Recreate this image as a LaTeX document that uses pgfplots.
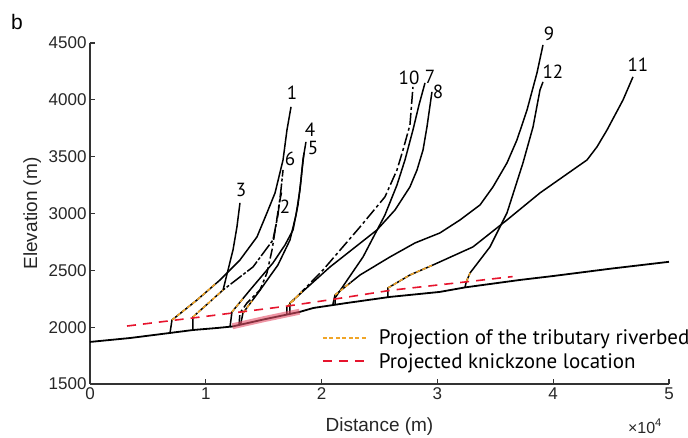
\documentclass[border=0pt]{standalone}
\usepackage{fontspec}
\setmainfont{Liberation Sans}
\newfontfamily\myr{PT Sans}
\usepackage{pgfplots}
\pgfplotsset{compat=1.18}
\definecolor{kzred}{RGB}{230,20,45}
\definecolor{projor}{RGB}{240,165,40}
\definecolor{bandred}{RGB}{228,80,105}
\tikzset{
  trib/.style={black, line width=1.5pt},
  orng/.style={color=projor, line width=1.5pt, dash pattern=on 4pt off 2.5pt},
  kz/.style={color=kzred, line width=1.6pt, dash pattern=on 9pt off 7pt},
  lab/.style={font=\myr\fontsize{19}{20}\selectfont, text=black},
}
\begin{document}
\begin{tikzpicture}
\useasboundingbox (-90pt,-54pt) rectangle (598pt,384pt);
\begin{axis}[
  scale only axis, width=579pt, height=341pt,
  xmin=0, xmax=5, ymin=1500, ymax=4500,
  axis x line*=bottom, axis y line*=left,
  every outer x axis line/.append style={-},
  every outer y axis line/.append style={-},
  axis line style={-, line width=1.2pt, black!80},
  tick align=inside, major tick length=5pt,
  every tick/.style={line width=1.2pt, black!80},
  xtick={0,1,2,3,4,5}, ytick={1500,2000,2500,3000,3500,4000,4500},
  scaled ticks=false,
  /pgf/number format/assume math mode=true,
  /pgf/number format/1000 sep={},
  tick label style={font=\fontsize{17}{20}\selectfont, text=black!85},
  xlabel={Distance (m)}, ylabel={Elevation (m)},
  label style={font=\fontsize{19}{22}\selectfont, text=black!85},
  xlabel style={at={(axis description cs:0.5,-0.126)}, anchor=center},
  ylabel style={at={(axis description cs:-0.10,0.5)}, anchor=center},
  clip=false,
  legend style={at={(0.40,0.165)}, anchor=north west, draw=none, fill=none,
    font=\myr\fontsize{21}{24}\selectfont, row sep=3pt, column sep=8pt, inner sep=0pt,
    nodes={inner sep=2pt}},
  legend cell align=left,
]
% trunk
\addplot[black, line width=1.8pt, forget plot] coordinates {
(0,1870) (0.35,1905) (0.69,1949) (0.89,1975) (1.1,1993) (1.23,2006) (1.5,2068) (1.81,2134)
(1.93,2169) (2.22,2213) (2.59,2266) (3.02,2310) (3.24,2350) (3.71,2415) (4.0,2450) (4.5,2515) (5.0,2575)};
% tributaries
\addplot[trib, forget plot] coordinates {(0.691,1949) (0.708,2063) (0.924,2239) (1.123,2415) (1.295,2591) (1.442,2794) (1.528,3005) (1.598,3181) (1.667,3471) (1.701,3735) (1.736,3938)};
\addplot[trib, forget plot] coordinates {(1.149,2327) (1.192,2503) (1.235,2679) (1.269,2882) (1.295,3093)};
\addplot[trib, forget plot, dash pattern=on 14pt off 2pt on 3pt off 2pt] coordinates {(0.889,1975) (0.889,2090) (1.149,2327) (1.408,2530) (1.580,2767) (1.623,2987) (1.649,3207) (1.667,3383)};
\addplot[trib, forget plot, dash pattern=on 10pt off 3pt on 3pt off 3pt] coordinates {(1.287,2018) (1.295,2125) (1.356,2213) (1.468,2327) (1.528,2477) (1.572,2679) (1.606,2899) (1.632,3075) (1.658,3207)};
\addplot[trib, forget plot] coordinates {(1.209,2002) (1.226,2134) (1.382,2327) (1.580,2565) (1.684,2723) (1.753,2855) (1.796,3075) (1.822,3295) (1.839,3471) (1.865,3630)};
\addplot[trib, forget plot] coordinates {(1.30,2020) (1.321,2125) (1.451,2301) (1.623,2547) (1.727,2767) (1.779,2987) (1.813,3207) (1.831,3383) (1.848,3533)};
\addplot[trib, forget plot, dash pattern=on 12pt off 3pt on 3pt off 3pt] coordinates {(1.70,2115) (1.701,2178) (2.012,2503) (2.332,2882) (2.547,3146) (2.651,3383) (2.703,3559) (2.763,3779) (2.789,4114)};
\addplot[trib, forget plot] coordinates {(2.116,2205) (2.116,2257) (2.358,2618) (2.547,2987) (2.651,3251) (2.720,3471) (2.789,3735) (2.841,3955) (2.893,4149)};
\addplot[trib, forget plot] coordinates {(1.727,2120) (1.727,2213) (2.073,2530) (2.478,2855) (2.634,3031) (2.763,3234) (2.824,3383) (2.876,3559) (2.910,3762) (2.953,4070)};
\addplot[trib, forget plot] coordinates {(2.098,2203) (2.116,2283) (2.332,2459) (2.591,2618) (2.807,2741) (3.022,2829) (3.195,2943) (3.368,3075) (3.480,3234) (3.601,3445) (3.687,3647) (3.774,3911) (3.860,4237) (3.912,4483)};
\addplot[trib, forget plot] coordinates {(2.573,2264) (2.573,2345) (2.763,2459) (2.962,2547) (3.307,2706) (3.601,2943) (3.886,3181) (4.292,3471) (4.378,3586) (4.465,3735) (4.603,3999) (4.689,4202)};
\addplot[trib, forget plot] coordinates {(3.238,2350) (3.25,2400) (3.282,2477) (3.454,2706) (3.601,3005) (3.739,3445) (3.826,3762) (3.886,4087) (3.912,4158)};
% knickzone band
\addplot[bandred, line width=6pt, opacity=0.6, forget plot] coordinates {(1.23,2008) (1.5,2070) (1.81,2136)};
% projections of tributary riverbeds
\addplot[orng, legend image code/.code={\draw[color=projor, line width=1.5pt, dash pattern=on 4pt off 2.5pt] (0pt,0pt) -- (45pt,0pt);}] coordinates {(0.708,2063) (0.924,2239) (1.08,2378)};
\addlegendentry{Projection of the tributary riverbed}
\addplot[orng, forget plot] coordinates {(0.889,2090) (1.149,2327)};
\addplot[orng, forget plot] coordinates {(1.226,2134) (1.33,2262)};
\addplot[orng, forget plot] coordinates {(1.321,2125) (1.40,2232)};
\addplot[orng, forget plot] coordinates {(1.701,2178) (1.83,2313)};
\addplot[orng, forget plot] coordinates {(1.727,2213) (1.80,2280)};
\addplot[orng, forget plot] coordinates {(2.116,2283) (2.25,2392)};
\addplot[orng, forget plot] coordinates {(2.573,2345) (2.763,2459) (2.962,2547)};
\addplot[orng, forget plot] coordinates {(3.25,2400) (3.282,2477)};
% projected knickzone location
\addplot[kz, legend image code/.code={\draw[draw=kzred, line width=2pt, dash pattern=on 9pt off 7pt] (0pt,0pt) -- (45pt,0pt);}] coordinates {(0.32,2010) (1.0,2095) (1.7,2185) (2.1,2245) (2.6,2325) (3.26,2400) (3.65,2445)};
\addlegendentry{Projected knickzone location}
% labels
\node[lab] at (axis cs:1.744,4061) {1};
\node[lab] at (axis cs:1.684,3058) {2};
\node[lab] at (axis cs:1.304,3207) {3};
\node[lab] at (axis cs:1.900,3735) {4};
\node[lab] at (axis cs:1.926,3577) {5};
\node[lab] at (axis cs:1.727,3480) {6};
\node[lab] at (axis cs:2.755,4193) {10};
\node[lab] at (axis cs:2.936,4202) {7};
\node[lab] at (axis cs:3.005,4070) {8};
\node[lab] at (axis cs:3.964,4580) {9};
\node[lab] at (axis cs:3.998,4246) {12};
\node[lab] at (axis cs:4.732,4307) {11};
\node[font=\fontsize{16}{18}\selectfont, text=black!85] at (rel axis cs:0.9585,-0.124) {×10\textsuperscript{4}};
\end{axis}
\node[font=\fontsize{21}{24}\selectfont] at (-73pt,362pt) {b};
\end{tikzpicture}
\end{document}
